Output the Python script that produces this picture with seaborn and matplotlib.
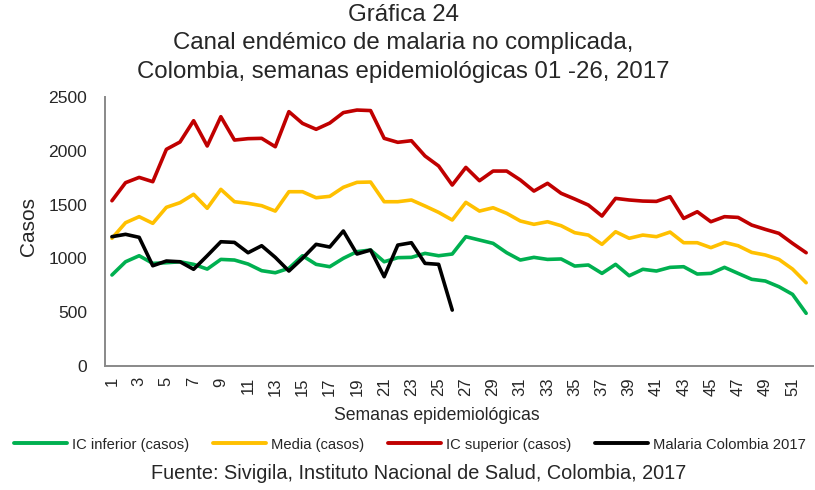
import numpy as np
import pandas as pd
import matplotlib
matplotlib.use("Agg")
import matplotlib.pyplot as plt
import seaborn as sns

weeks = list(range(1, 53))

ic_inferior = [846, 969, 1025, 954, 960, 969, 945, 901, 991, 985, 948, 886, 867, 908, 1025, 945, 923,
               1001, 1063, 1078, 969, 1007, 1010, 1047, 1025, 1041, 1202, 1171, 1140, 1053, 985, 1010,
               991, 995, 929, 939, 861, 945, 839, 899, 883, 917, 923, 855, 861, 917, 861, 806, 790,
               737, 666, 490]
media = [1187, 1332, 1388, 1326, 1475, 1518, 1596, 1466, 1642, 1527, 1512, 1490, 1440, 1620, 1620, 1564,
         1577, 1661, 1707, 1710, 1527, 1527, 1543, 1487, 1428, 1357, 1521, 1440, 1471, 1419, 1348,
         1317, 1341, 1304, 1239, 1217, 1131, 1248, 1187, 1217, 1202, 1245, 1146, 1146, 1100, 1149,
         1118, 1056, 1032, 991, 901, 774]
ic_superior = [1536, 1704, 1753, 1713, 2014, 2082, 2280, 2045, 2317, 2100, 2113, 2116, 2038, 2364, 2255,
               2200, 2258, 2355, 2379, 2374, 2116, 2079, 2094, 1952, 1859, 1682, 1846, 1722, 1812, 1812,
               1729, 1626, 1698, 1605, 1552, 1496, 1394, 1558, 1543, 1533, 1530, 1574, 1372, 1434,
               1341, 1388, 1381, 1310, 1270, 1233, 1140, 1053]
malaria_2017 = [1202, 1224, 1196, 932, 976, 969, 899, 1025, 1155, 1149, 1053, 1118, 1010, 883, 1001,
                1131, 1106, 1255, 1041, 1078, 830, 1124, 1146, 954, 945, 520]

series_names = ["IC inferior (casos)", "Media (casos)", "IC superior (casos)", "Malaria Colombia 2017"]
series_colors = ["#00B050", "#FFC000", "#C00000", "#000000"]
y_ticks = [0, 500, 1000, 1500, 2000, 2500]

rows = []
for name, vals in zip(series_names, [ic_inferior, media, ic_superior, malaria_2017]):
    for w, v in zip(weeks, vals):
        rows.append({"Semana": w, "Casos": v, "Serie": name})
df = pd.DataFrame(rows)

sns.set_theme(style="white")
plt.rcParams['font.family'] = ['Liberation Sans', 'DejaVu Sans']

fig = plt.figure(figsize=(8.15, 4.9), dpi=100)
ax = fig.add_axes([0.129, 0.253, 0.8685, 0.549])

sns.lineplot(data=df, x="Semana", y="Casos", hue="Serie", hue_order=series_names,
             palette=dict(zip(series_names, series_colors)), linewidth=2.6, ax=ax,
             legend=False, sort=False)

ax.set_xlim(0.5, 52.5)
ax.set_ylim(0, 2500)
ax.set_yticks(y_ticks)
ax.set_yticklabels([str(t) for t in y_ticks], fontsize=12.6)
odd = [w for w in weeks if w % 2 == 1]
ax.set_xticks(odd)
ax.set_xticklabels([str(w) for w in odd], rotation=90, fontsize=12)
ax.tick_params(axis='y', length=0, pad=13)
ax.tick_params(axis='x', length=0, pad=8)
ax.set_xlabel("")
ax.set_ylabel("")

for s in ["top", "right"]:
    ax.spines[s].set_visible(False)
for s in ["left", "bottom"]:
    ax.spines[s].set_color("#898989")
    ax.spines[s].set_linewidth(1.4)

fig.text(28.7 / 815, 1 - 226 / 490, "Casos", rotation=90, ha="center", va="center", fontsize=15)
fig.text(437 / 815, 1 - 420 / 490, "Semanas epidemiológicas", ha="center", va="baseline", fontsize=12.7)

fig.text(0.495, 1 - 15 / 490, "Gráfica 24", ha="center", va="center", fontsize=17.3)
fig.text(0.495, 1 - 43.5 / 490, "Canal endémico de malaria no complicada,", ha="center", va="center", fontsize=17.3)
fig.text(0.495, 1 - 72 / 490, "Colombia, semanas epidemiológicas 01 -26, 2017", ha="center", va="center", fontsize=17.3)

handles = [plt.Line2D([0], [0], color=c, lw=2.8) for c in series_colors]
fig.legend(handles, series_names, loc="center", bbox_to_anchor=(410 / 815, 1 - 444.5 / 490), ncol=4,
           frameon=False, fontsize=10.6,
           handlelength=3.6, handletextpad=0.35, columnspacing=1.6, borderpad=0, borderaxespad=0)

fig.text(419 / 815, 1 - 473 / 490, "Fuente: Sivigila, Instituto Nacional de Salud, Colombia, 2017",
         ha="center", va="center", fontsize=14.3)

fig.savefig("out.png", dpi=100)
